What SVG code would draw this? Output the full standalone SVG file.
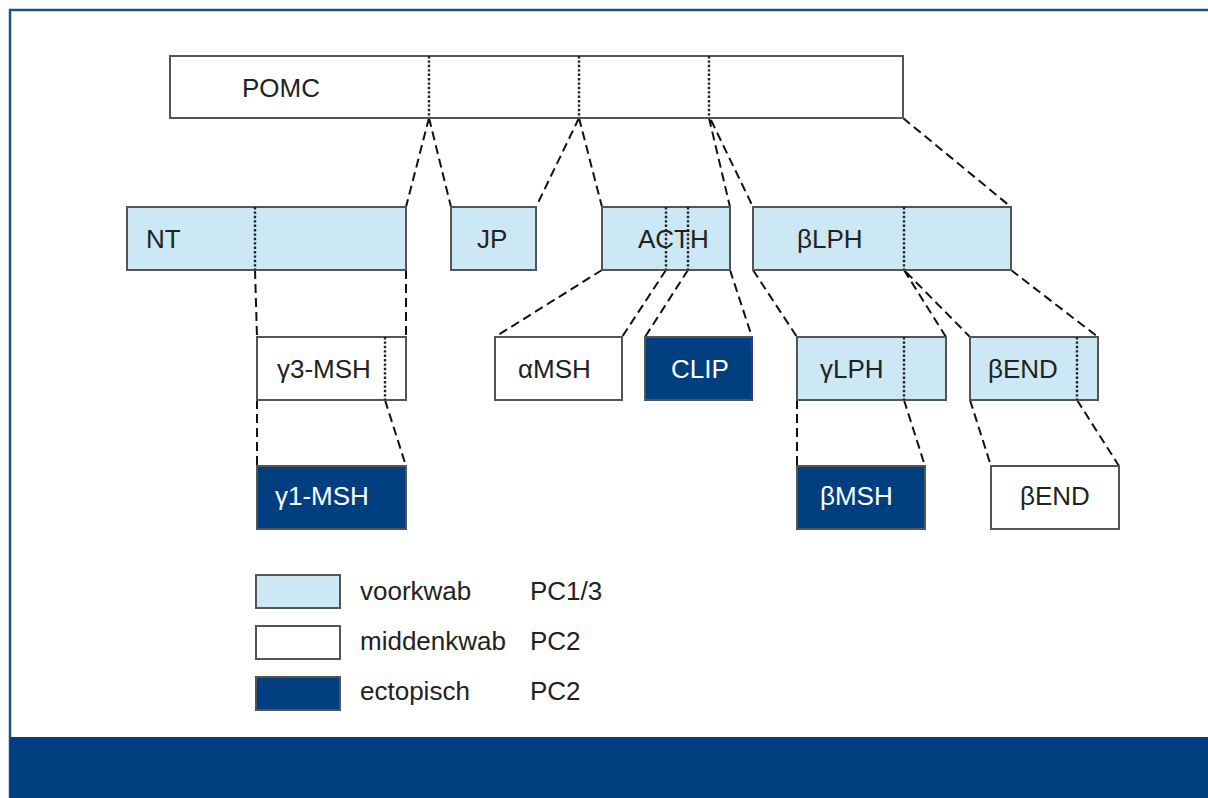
<svg xmlns="http://www.w3.org/2000/svg" width="1208" height="798" viewBox="0 0 1208 798">
<style>
.box{stroke:#555;stroke-width:2}
.lb{fill:#cce8f4}
.wh{fill:#fff}
.db{fill:#003f7f}
.t{font-family:"Liberation Sans",Arial,sans-serif;font-size:26px;fill:#222}
.tw{font-family:"Liberation Sans",Arial,sans-serif;font-size:26px;fill:#fff}
.dot{stroke:#222;stroke-width:2.4;stroke-dasharray:2.4 2;fill:none}
.dash{stroke:#111;stroke-width:2;stroke-dasharray:9 5;fill:none}
</style>
<rect x="0" y="0" width="1208" height="798" fill="#fff"/>
<g id="frame">
<path d="M10 798 V10 H1208" fill="none" stroke="#1d4f8c" stroke-width="2.5"/>
<rect x="10" y="737" width="1198" height="61" fill="#003f7f"/>
</g>
<g id="connectors">
<path class="dash" d="M429 118 L406 207 M429 118 L451 207 M579 118 L536 207 M579 118 L602 207 M709 118 L730 207 M711 120 L753 207 M903 118 L1011 207"/>
<path class="dash" d="M255 270 L257 337 M406 270 L406 337 M602 270 L495 337 M666 270 L622 337 M688 270 L645 337 M730 270 L752 337 M753 270 L797 337 M904 270 L946 337 M906 272 L970 337 M1011 270 L1098 337"/>
<path class="dash" d="M257 400 L257 466 M385 400 L406 466 M797 400 L797 466 M904 400 L925 466 M970 400 L991 466 M1077 400 L1119 466"/>
</g>
<g id="pomc">
<rect class="box wh" x="170" y="56" width="733" height="62"/>
<path class="dot" d="M429 56 V118 M579 56 V118 M709 56 V118"/>
<text class="t" x="242" y="97">POMC</text>
</g>
<g id="nt">
<rect class="box lb" x="127" y="207" width="279" height="63"/>
<path class="dot" d="M255 207 V270"/>
<text class="t" x="146" y="248">NT</text>
</g>
<g id="jp">
<rect class="box lb" x="451" y="207" width="85" height="63"/>
<text class="t" x="477" y="248">JP</text>
</g>
<g id="acth">
<rect class="box lb" x="602" y="207" width="128" height="63"/>
<text class="t" x="638" y="248">ACTH</text>
<path class="dot" d="M666 207 V270 M688 207 V270"/>
</g>
<g id="blph">
<rect class="box lb" x="753" y="207" width="258" height="63"/>
<path class="dot" d="M904 207 V270"/>
<text class="t" x="797" y="248">βLPH</text>
</g>
<g id="g3msh">
<rect class="box wh" x="257" y="337" width="149" height="63"/>
<path class="dot" d="M385 337 V400"/>
<text class="t" x="277" y="378">γ3-MSH</text>
</g>
<g id="amsh">
<rect class="box wh" x="495" y="337" width="127" height="63"/>
<text class="t" x="518" y="378">αMSH</text>
</g>
<g id="clip">
<rect class="box db" x="645" y="337" width="107" height="63"/>
<path d="M752 337 V401" stroke="#34349a" stroke-width="2"/>
<text class="tw" x="671" y="378">CLIP</text>
</g>
<g id="glph">
<rect class="box lb" x="797" y="337" width="149" height="63"/>
<path class="dot" d="M904 337 V400"/>
<text class="t" x="820" y="378">γLPH</text>
</g>
<g id="bend1">
<rect class="box lb" x="970" y="337" width="128" height="63"/>
<path class="dot" d="M1077 337 V400"/>
<text class="t" x="988" y="378">βEND</text>
</g>
<g id="g1msh">
<rect class="box db" x="257" y="466" width="149" height="63"/>
<text class="tw" x="275" y="505">γ1-MSH</text>
</g>
<g id="bmsh">
<rect class="box db" x="797" y="466" width="128" height="63"/>
<text class="tw" x="820" y="505">βMSH</text>
</g>
<g id="bend2">
<rect class="box wh" x="991" y="466" width="128" height="63"/>
<text class="t" x="1020" y="505">βEND</text>
</g>
<g id="legend">
<rect class="box lb" x="256" y="575" width="84" height="33"/>
<rect class="box wh" x="256" y="626" width="84" height="33"/>
<rect class="box db" x="256" y="677" width="84" height="33"/>
<text class="t" x="360" y="600">voorkwab</text>
<text class="t" x="530" y="600">PC1/3</text>
<text class="t" x="360" y="650">middenkwab</text>
<text class="t" x="530" y="650">PC2</text>
<text class="t" x="360" y="700">ectopisch</text>
<text class="t" x="530" y="700">PC2</text>
</g>
</svg>
